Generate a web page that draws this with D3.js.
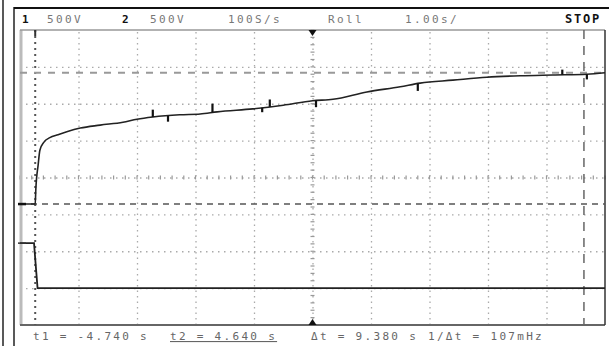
<!DOCTYPE html>
<html>
<head>
<meta charset="utf-8">
<script src="https://cdn.jsdelivr.net/npm/d3@7"></script>
<style>
  html, body { margin: 0; padding: 0; background: #fff; }
  svg { display: block; }
  text { font-family: "DejaVu Sans Mono", monospace; }
</style>
</head>
<body>
<div id="chart"></div>
<script>
// time in seconds (1.00 s/div, roll mode), level in volts (0.5 V/div)
const ch1Time = [-5.0, -4.74, -4.73, -4.69, -4.66, -4.59, -4.49, -4.35, -4.2, -3.97, -3.63, -3.24, -3.0, -2.73, -2.27, -1.92, -1.63, -1.02, -0.5, 0.0, 0.35, 0.93, 1.5, 1.84, 2.4, 2.98, 3.55, 4.11, 4.69, 5.0];
const ch1Volts = [-0.36, -0.36, -0.17, 0.17, 0.37, 0.48, 0.54, 0.58, 0.62, 0.67, 0.71, 0.75, 0.79, 0.82, 0.85, 0.86, 0.89, 0.93, 0.98, 1.04, 1.06, 1.16, 1.23, 1.28, 1.32, 1.36, 1.38, 1.39, 1.40, 1.42];

const ch2Time = [-5.0, -4.76, -4.74, -4.72, -4.70, 5.0];
const ch2Volts = [-0.89, -0.89, -1.1, -1.3, -1.5, -1.5];

// short glitches on channel 1: time, excursion in volts
const glitchTime = [-2.73, -2.47, -1.71, -0.86, -0.73, 0.06, 1.8, 4.27, 4.69];
const glitchSize = [0.1, -0.08, 0.12, -0.06, 0.1, -0.09, -0.1, 0.07, -0.07];

const cursorT = [-4.74, 4.64];
const cursorV = [1.42, -0.36];

const headerLabels = ['1', '500V', '2', '500V', '100S/s', 'Roll', '1.00s/', 'STOP'];
const headerPos = [22, 47, 122, 150, 228, 328, 405, 565];
const footerLabels = ['t1 = -4.740 s', 't2 = 4.640 s', '\u0394t = 9.380 s', '1/\u0394t = 107mHz'];
const footerPos = [33, 170, 311, 428];

const W = 609, H = 346;
const plot = { left: 20, right: 605, top: 30, bottom: 325 };

const svg = d3.select('#chart').append('svg')
  .attr('width', W).attr('height', H);

const x = d3.scaleLinear().domain([-5, 5]).range([plot.left, plot.right]);
const y = d3.scaleLinear().domain([-2, 2]).range([plot.bottom, plot.top]);

// outer bezel lines
svg.append('line').attr('x1', 3).attr('x2', 3).attr('y1', 0).attr('y2', H)
  .attr('stroke', '#222').attr('stroke-width', 1.5);
svg.append('line').attr('x1', 14).attr('x2', 14).attr('y1', 7).attr('y2', H)
  .attr('stroke', '#222').attr('stroke-width', 1.5);
svg.append('line').attr('x1', 14).attr('x2', W).attr('y1', 8).attr('y2', 8)
  .attr('stroke', '#111').attr('stroke-width', 2);

// grid
const grid = svg.append('g');
grid.append('g')
  .attr('transform', `translate(0,${plot.bottom})`)
  .call(d3.axisBottom(x).tickValues(d3.range(-4, 5, 1)).tickSize(-(plot.bottom - plot.top)).tickFormat(''))
  .call(g => g.select('.domain').remove())
  .call(g => g.selectAll('.tick line').attr('stroke', '#aaa').attr('stroke-width', 1.3).attr('stroke-dasharray', '1.5,4'));
grid.append('g')
  .attr('transform', `translate(${plot.left},0)`)
  .call(d3.axisLeft(y).tickValues(d3.range(-1.5, 2, 0.5)).tickSize(-(plot.right - plot.left)).tickFormat(''))
  .call(g => g.select('.domain').remove())
  .call(g => g.selectAll('.tick line').attr('stroke', '#aaa').attr('stroke-width', 1.3).attr('stroke-dasharray', '1.5,4.5'));

// centre axes minor ticks
const minorX = d3.range(-5, 5.01, 0.2);
const minorY = d3.range(-2, 2.01, 0.1);
grid.selectAll('.mx').data(minorX).join('line')
  .attr('x1', d => x(d)).attr('x2', d => x(d))
  .attr('y1', y(0) - 2).attr('y2', y(0) + 2)
  .attr('stroke', '#999').attr('stroke-width', 1.2);
grid.selectAll('.my').data(minorY).join('line')
  .attr('x1', x(0) - 2).attr('x2', x(0) + 2)
  .attr('y1', d => y(d)).attr('y2', d => y(d))
  .attr('stroke', '#999').attr('stroke-width', 1.2);

// plot frame
svg.append('line').attr('x1', plot.left + 1).attr('x2', plot.left + 1).attr('y1', plot.top).attr('y2', plot.bottom)
  .attr('stroke', '#bbb').attr('stroke-width', 3);
svg.append('line').attr('x1', plot.left).attr('x2', plot.right).attr('y1', plot.top).attr('y2', plot.top)
  .attr('stroke', '#999').attr('stroke-width', 1.5);
svg.append('line').attr('x1', plot.left).attr('x2', plot.right).attr('y1', plot.bottom).attr('y2', plot.bottom)
  .attr('stroke', '#666').attr('stroke-width', 2);
svg.append('line').attr('x1', plot.right).attr('x2', plot.right).attr('y1', plot.top).attr('y2', plot.bottom)
  .attr('stroke', '#333').attr('stroke-width', 1.5);

// cursors
svg.append('line')
  .attr('x1', x(cursorT[0])).attr('x2', x(cursorT[0]))
  .attr('y1', plot.top).attr('y2', plot.bottom)
  .attr('stroke', '#555').attr('stroke-width', 2).attr('stroke-dasharray', '2,4');
svg.append('line')
  .attr('x1', x(cursorT[1])).attr('x2', x(cursorT[1]))
  .attr('y1', plot.top).attr('y2', plot.bottom)
  .attr('stroke', '#666').attr('stroke-width', 1.5).attr('stroke-dasharray', '9,7');
svg.append('line')
  .attr('x1', plot.left).attr('x2', plot.right)
  .attr('y1', y(cursorV[0])).attr('y2', y(cursorV[0]))
  .attr('stroke', '#999').attr('stroke-width', 2).attr('stroke-dasharray', '7,7');
svg.append('line')
  .attr('x1', plot.left).attr('x2', plot.right)
  .attr('y1', y(cursorV[1])).attr('y2', y(cursorV[1]))
  .attr('stroke', '#555').attr('stroke-width', 1.5).attr('stroke-dasharray', '6,5');

// traces
const line = d3.line().x(d => x(d[0])).y(d => y(d[1])).curve(d3.curveMonotoneX);
const ch1 = ch1Time.map((t, i) => [t, ch1Volts[i]]);
const ch2 = ch2Time.map((t, i) => [t, ch2Volts[i]]);
svg.append('path').datum(ch1).attr('d', line)
  .attr('fill', 'none').attr('stroke', '#222').attr('stroke-width', 1.6);
svg.append('path').datum(ch2).attr('d', d3.line().x(d => x(d[0])).y(d => y(d[1])))
  .attr('fill', 'none').attr('stroke', '#222').attr('stroke-width', 1.8);

const baseAt = d3.scaleLinear().domain(ch1Time).range(ch1Volts);
svg.selectAll('.glitch').data(glitchTime).join('line')
  .attr('x1', d => x(d)).attr('x2', d => x(d))
  .attr('y1', d => y(baseAt(d)))
  .attr('y2', (d, i) => y(baseAt(d) + glitchSize[i]))
  .attr('stroke', '#111').attr('stroke-width', 2.2);

// ground reference markers on left edge
svg.append('line').attr('x1', plot.left - 2).attr('x2', plot.left + 6)
  .attr('y1', y(cursorV[1])).attr('y2', y(cursorV[1])).attr('stroke', '#111').attr('stroke-width', 2.5);
svg.append('line').attr('x1', plot.left - 2).attr('x2', plot.left + 6)
  .attr('y1', y(ch2Volts[0])).attr('y2', y(ch2Volts[0])).attr('stroke', '#333').attr('stroke-width', 1.5);

// trigger markers top/bottom
svg.append('path')
  .attr('d', `M${x(0) - 4},${plot.top} L${x(0) + 4},${plot.top} L${x(0)},${plot.top + 6}Z`)
  .attr('fill', '#111');
svg.append('path')
  .attr('d', `M${x(0) - 4},${plot.bottom} L${x(0) + 4},${plot.bottom} L${x(0)},${plot.bottom - 6}Z`)
  .attr('fill', '#111');
svg.append('line').attr('x1', x(cursorT[0])).attr('x2', x(cursorT[0]))
  .attr('y1', plot.top).attr('y2', plot.top + 6).attr('stroke', '#333').attr('stroke-width', 2);

// header
svg.selectAll('.hdr').data(headerLabels).join('text')
  .attr('x', (d, i) => headerPos[i])
  .attr('y', 23)
  .attr('font-size', d => (d === 'STOP' ? 12 : 11))
  .attr('letter-spacing', d => (d === 'STOP' ? 1.8 : 2.4))
  .attr('font-weight', d => (d === '1' || d === '2' || d === 'STOP') ? 'bold' : 'normal')
  .attr('fill', d => (d === '1' || d === '2' || d === 'STOP') ? '#111' : '#777')
  .text(d => d);

// footer
svg.selectAll('.ftr').data(footerLabels).join('text')
  .attr('x', (d, i) => footerPos[i])
  .attr('y', 340)
  .attr('font-size', 11)
  .attr('letter-spacing', 2.3)
  .attr('fill', '#666')
  .attr('text-decoration', (d, i) => i === 1 ? 'underline' : null)
  .text(d => d);
</script>
</body>
</html>
